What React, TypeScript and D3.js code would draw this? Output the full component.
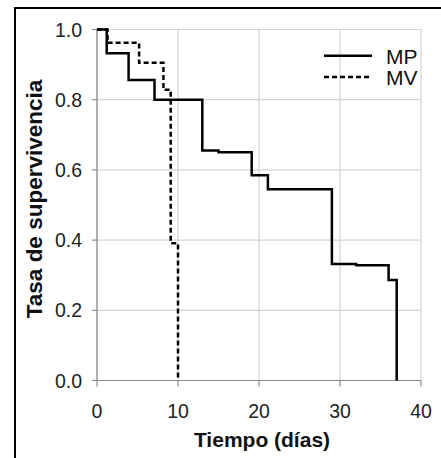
import React from "react";
import * as d3 from "d3";

const mpTimes = [0, 1.2, 3.9, 7.1, 13.0, 15.0, 19.1, 21.1, 29.0, 32.0, 36.0, 37.0];
const mpValues = [1.0, 0.932, 0.856, 0.8, 0.655, 0.65, 0.585, 0.545, 0.332, 0.328, 0.286, 0.0];
const mvTimes = [0, 1.3, 5.2, 8.2, 9.1, 10.0];
const mvValues = [1.0, 0.962, 0.905, 0.828, 0.391, 0.0];
const xTicks = [0, 10, 20, 30, 40];
const yTicks = [0, 0.2, 0.4, 0.6, 0.8, 1.0];
const seriesNames = ["MP", "MV"];
const xTitle = "Tiempo (días)";
const yTitle = "Tasa de supervivencia";

export default function App() {
  const W = 441, H = 458;
  const x = d3.scaleLinear().domain([0, 40]).range([97, 421]);
  const y = d3.scaleLinear().domain([0, 1]).range([380.5, 29.5]);
  const line = d3
    .line<[number, number]>()
    .x((d) => x(d[0]))
    .y((d) => y(d[1]))
    .curve(d3.curveStepAfter);
  const mpPts: [number, number][] = mpTimes.map((t, i) => [t, mpValues[i]]);
  const mvPts: [number, number][] = mvTimes.map((t, i) => [t, mvValues[i]]);
  const font = "Arial, 'Liberation Sans', Helvetica, sans-serif";
  const grid = "#d4d4d4";
  const axis = "#8c8c8c";
  return (
    <svg width={W} height={H} style={{ position: "absolute", left: 0, top: 0, background: "#fff" }} fontFamily={font}>
      <rect x={0} y={0} width={W} height={H} fill="#fff" />
      <rect x={15} y={8} width={450} height={470} fill="none" stroke="#000" strokeWidth={2} />
      {xTicks.map((t) => (
        <line key={"gx" + t} x1={x(t)} x2={x(t)} y1={y(1)} y2={y(0)} stroke={grid} strokeWidth={1.2} />
      ))}
      {yTicks.map((t) => (
        <line key={"gy" + t} x1={x(0)} x2={x(40)} y1={y(t)} y2={y(t)} stroke={grid} strokeWidth={1.2} />
      ))}
      <line x1={x(0)} x2={x(0)} y1={y(1)} y2={y(0)} stroke={axis} strokeWidth={1.2} />
      <line x1={x(0)} x2={x(40)} y1={y(0)} y2={y(0)} stroke={axis} strokeWidth={1.2} />
      {yTicks.map((t) => (
        <g key={"yt" + t}>
          <line x1={x(0) - 5} x2={x(0)} y1={y(t)} y2={y(t)} stroke={axis} strokeWidth={1.2} />
          <text x={82} y={y(t)} dy="0.36em" textAnchor="end" fontSize={19.5} fill="#222">
            {t.toFixed(1)}
          </text>
        </g>
      ))}
      {xTicks.map((t) => (
        <g key={"xt" + t}>
          <line x1={x(t)} x2={x(t)} y1={y(0)} y2={y(0) + 6} stroke={axis} strokeWidth={1.2} />
          <text x={x(t)} y={418} textAnchor="middle" fontSize={19.5} fill="#222">
            {t}
          </text>
        </g>
      ))}
      <path d={line(mpPts) || ""} fill="none" stroke="#000" strokeWidth={2.5} />
      <path d={line(mvPts) || ""} fill="none" stroke="#000" strokeWidth={2.5} strokeDasharray="5,3" />
      <line x1={324} x2={372} y1={55.7} y2={55.7} stroke="#000" strokeWidth={2.5} />
      <line x1={324} x2={372} y1={77} y2={77} stroke="#000" strokeWidth={2.5} strokeDasharray="5,3" />
      <text x={386} y={63.5} fontSize={21} fill="#111">{seriesNames[0]}</text>
      <text x={386} y={85} fontSize={21} fill="#111">{seriesNames[1]}</text>
      <text x={262} y={447} textAnchor="middle" fontSize={21} fontWeight="bold" fill="#111">
        {xTitle}
      </text>
      <text
        transform={`translate(41.5,199) rotate(-90)`}
        textAnchor="middle"
        fontSize={22.5}
        fontWeight="bold"
        fill="#111"
      >
        {yTitle}
      </text>
    </svg>
  );
}
